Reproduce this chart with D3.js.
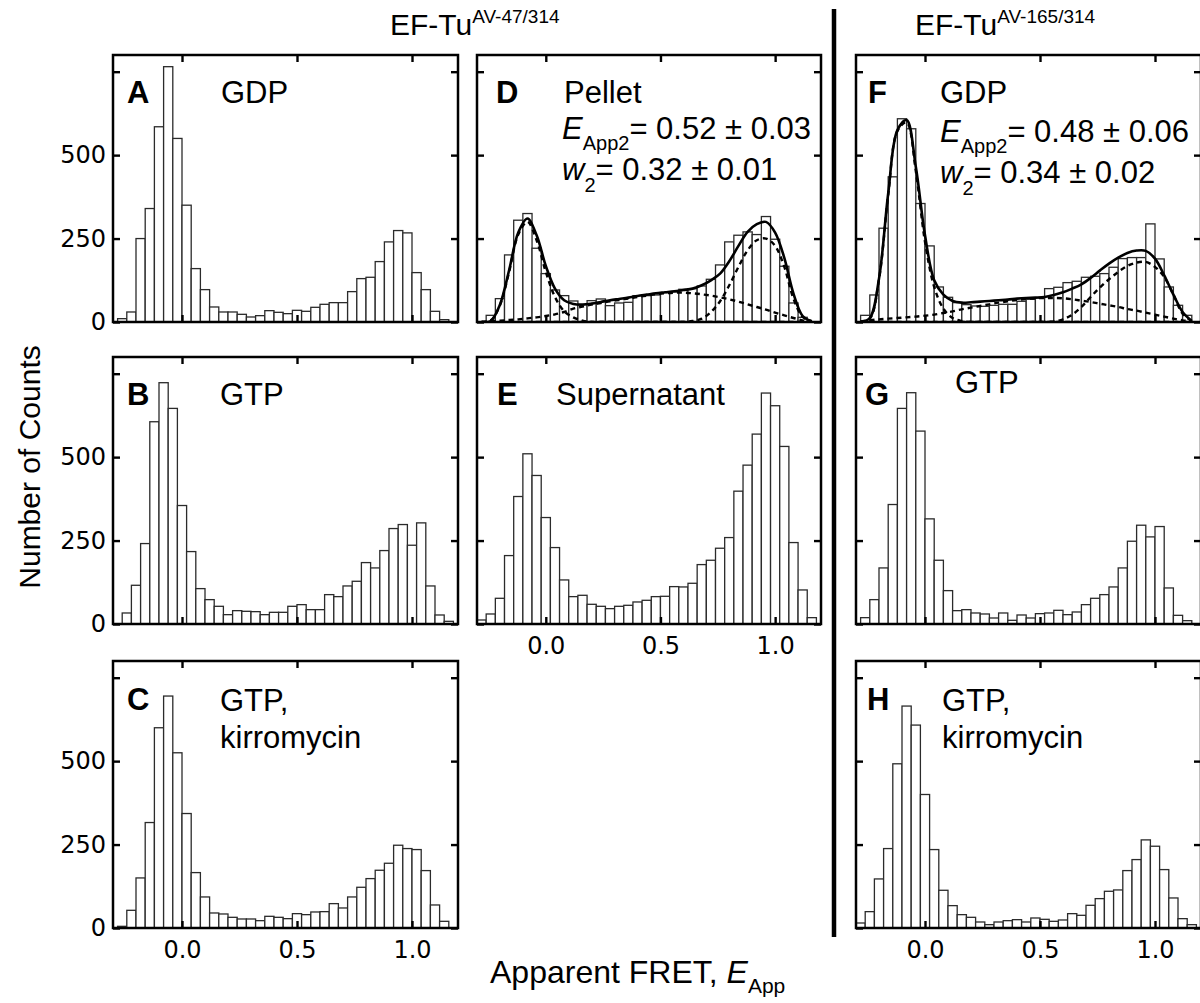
<!DOCTYPE html>
<html>
<head>
<meta charset="utf-8">
<script src="https://cdn.jsdelivr.net/npm/d3@7"></script>
<style>
  body { margin: 0; background: #fff; }
  svg { display: block; }
</style>
</head>
<body>
<svg id="fig" width="1200" height="1003"></svg>
<script>
// histogram bins are 0.04 wide, each panel has its own first edge
const binWidth = 0.04;
const xDomain = [-0.3, 1.2];
const yDomain = [0, 800];
const xTicks = [0, 0.5, 1.0];
const yTicks = [0, 250, 500, 750];
const yTickLabels = [0, 250, 500];

const startA = -0.28;
const countsA = [10, 30, 250, 340, 585, 765, 550, 350, 160, 97, 45, 30, 30, 23, 15, 19, 34, 29, 25, 35, 32, 44, 53, 58, 58, 91, 130, 134, 181, 240, 274, 267, 148, 97, 32, 7];
const startB = -0.26;
const countsB = [33, 116, 241, 606, 723, 646, 355, 217, 106, 73, 53, 28, 40, 38, 37, 28, 35, 35, 53, 58, 43, 43, 88, 82, 114, 128, 184, 168, 220, 286, 298, 236, 303, 114, 27, 8];
const startC = -0.28;
const countsC = [5, 53, 150, 316, 600, 695, 525, 343, 166, 93, 45, 42, 32, 27, 27, 22, 35, 32, 28, 43, 40, 48, 49, 73, 60, 93, 122, 148, 173, 194, 248, 238, 235, 172, 69, 20];
const startD = -0.26;
const countsD = [20, 70, 201, 305, 325, 221, 145, 96, 79, 63, 52, 64, 69, 49, 57, 59, 79, 79, 81, 88, 90, 98, 100, 108, 128, 171, 240, 260, 270, 262, 316, 248, 167, 57, 14];
const startE = -0.3;
const countsE = [12, 30, 77, 205, 382, 510, 445, 319, 229, 132, 82, 86, 59, 53, 46, 53, 56, 66, 71, 82, 83, 112, 111, 122, 178, 191, 227, 259, 398, 476, 569, 692, 654, 532, 244, 102, 19];
const startF = -0.28;
const countsF = [20, 81, 281, 435, 609, 579, 355, 228, 105, 74, 58, 52, 48, 47, 50, 53, 53, 62, 68, 72, 100, 104, 118, 122, 134, 137, 145, 164, 190, 193, 193, 294, 189, 105, 50, 20];
const startG = -0.28;
const countsG = [19, 73, 168, 358, 646, 693, 578, 315, 191, 100, 40, 43, 33, 30, 18, 33, 11, 27, 18, 31, 33, 41, 28, 36, 58, 77, 88, 111, 168, 248, 296, 261, 292, 108, 26, 10];
const startH = -0.3;
const countsH = [15, 49, 147, 238, 492, 665, 608, 400, 235, 113, 67, 40, 32, 18, 10, 18, 22, 25, 18, 30, 26, 20, 24, 43, 38, 68, 88, 110, 114, 172, 205, 264, 245, 175, 90, 28, 10];

const fitX = [-0.28, -0.24, -0.20, -0.16, -0.12, -0.08, -0.04, 0.00, 0.04, 0.08, 0.12, 0.16, 0.20, 0.24, 0.28, 0.32, 0.36, 0.40, 0.44, 0.48, 0.52, 0.56, 0.60, 0.64, 0.68, 0.72, 0.76, 0.80, 0.84, 0.88, 0.92, 0.96, 1.00, 1.04, 1.08, 1.12, 1.16];
const fitTotalD = [0, 3, 52, 155, 268, 310, 260, 168, 100, 65, 54, 52, 55, 60, 65, 69, 73, 78, 82, 86, 89, 92, 96, 100, 110, 125, 145, 182, 228, 270, 293, 300, 268, 192, 85, 18, 2];
const fitLeftD = [0, 5, 50, 150, 262, 300, 245, 150, 75, 32, 14, 4, 0, 0, 0, 0, 0, 0, 0, 0, 0, 0, 0, 0, 0, 0, 0, 0, 0, 0, 0, 0, 0, 0, 0, 0, 0];
const fitMidD = [0, 2, 4, 6, 8, 11, 14, 18, 23, 30, 40, 46, 52, 57, 62, 66, 70, 75, 79, 83, 86, 88, 88, 86, 83, 79, 74, 68, 61, 53, 45, 37, 28, 20, 12, 5, 1];
const fitRightD = [0, 0, 0, 0, 0, 0, 0, 0, 0, 0, 0, 0, 0, 0, 0, 0, 0, 0, 0, 0, 0, 0, 0, 3, 10, 30, 62, 110, 165, 215, 245, 250, 228, 165, 70, 15, 2];
const fitTotalF = [0, 12, 130, 385, 575, 605, 465, 260, 125, 82, 63, 58, 59, 61, 63, 65, 67, 70, 72, 73, 75, 81, 89, 100, 113, 132, 154, 175, 193, 207, 214, 213, 190, 140, 82, 30, 3];
const fitLeftF = [0, 10, 128, 380, 572, 598, 452, 240, 105, 40, 12, 3, 0, 0, 0, 0, 0, 0, 0, 0, 0, 0, 0, 0, 0, 0, 0, 0, 0, 0, 0, 0, 0, 0, 0, 0, 0];
const fitMidF = [2, 5, 8, 10, 12, 14, 16, 19, 22, 27, 32, 38, 43, 48, 53, 58, 62, 66, 69, 71, 72, 72, 71, 68, 64, 60, 55, 50, 45, 39, 34, 28, 22, 16, 10, 5, 2];
const fitRightF = [0, 0, 0, 0, 0, 0, 0, 0, 0, 0, 0, 0, 0, 0, 0, 0, 0, 0, 0, 0, 0, 2, 8, 22, 45, 75, 103, 128, 150, 168, 178, 180, 165, 135, 82, 25, 3];

const colX = [113, 477, 856];
const colW = [345, 344, 345];
const rowY = [55, 357, 661];
const H = 267;
const labelFont = '"Liberation Sans", Arial, sans-serif';
const tickFont = '"DejaVu Sans", sans-serif';

const panels = [
  { id: 'A', col: 0, row: 0, start: startA, counts: countsA, letter: [14, 48], lines: [['GDP', 108, 48]] },
  { id: 'B', col: 0, row: 1, start: startB, counts: countsB, letter: [14, 48], lines: [['GTP', 107, 48]] },
  { id: 'C', col: 0, row: 2, start: startC, counts: countsC, letter: [14, 49], lines: [['GTP,', 107, 50], ['kirromycin', 107, 87]], xLabels: true },
  { id: 'D', col: 1, row: 0, start: startD, counts: countsD, letter: [19, 48], lines: [['Pellet', 87, 48]],
    stats: { dx: 85, dy: 84, e: '= 0.52 \u00b1 0.03', w: '= 0.32 \u00b1 0.01' },
    fits: [fitTotalD, fitLeftD, fitMidD, fitRightD] },
  { id: 'E', col: 1, row: 1, start: startE, counts: countsE, letter: [20, 48], lines: [['Supernatant', 79, 48]], xLabels: true },
  { id: 'F', col: 2, row: 0, start: startF, counts: countsF, letter: [12, 48], lines: [['GDP', 84, 48]],
    stats: { dx: 84, dy: 87, e: '= 0.48 \u00b1 0.06', w: '= 0.34 \u00b1 0.02' },
    fits: [fitTotalF, fitLeftF, fitMidF, fitRightF] },
  { id: 'G', col: 2, row: 1, start: startG, counts: countsG, letter: [9, 48], lines: [['GTP', 99, 36]] },
  { id: 'H', col: 2, row: 2, start: startH, counts: countsH, letter: [11, 49], lines: [['GTP,', 86, 50], ['kirromycin', 86, 87]], xLabels: true }
];

const svg = d3.select('#fig');
svg.append('rect').attr('width', 1200).attr('height', 1003).attr('fill', '#fff');

panels.forEach(p => {
  const w = colW[p.col];
  const g = svg.append('g').attr('transform', `translate(${colX[p.col]},${rowY[p.row]})`);
  const x = d3.scaleLinear().domain(xDomain).range([0, w]);
  const y = d3.scaleLinear().domain(yDomain).range([H, 0]);

  g.append('clipPath').attr('id', 'clip' + p.id)
    .append('rect').attr('width', w).attr('height', H);
  const plot = g.append('g').attr('clip-path', `url(#clip${p.id})`);

  plot.selectAll('rect.bar')
    .data(p.counts)
    .join('rect')
    .attr('class', 'bar')
    .attr('x', (d, i) => x(p.start + i * binWidth))
    .attr('width', x(binWidth) - x(0))
    .attr('y', d => y(d))
    .attr('height', d => H - y(d))
    .attr('fill', '#fff')
    .attr('stroke', '#2b2b2b')
    .attr('stroke-width', 1.3);

  if (p.fits) {
    const line = d3.line()
      .x((d, i) => x(fitX[i]))
      .y(d => y(d))
      .curve(d3.curveCatmullRom);
    p.fits.forEach((f, k) => {
      plot.append('path')
        .attr('d', line(f))
        .attr('fill', 'none')
        .attr('stroke', '#000')
        .attr('stroke-width', k === 0 ? 2.6 : 2.4)
        .attr('stroke-dasharray', k === 0 ? null : '5,4');
    });
  }

  const styleAxis = a => {
    a.select('.domain').remove();
    a.selectAll('.tick line').attr('stroke', '#000').attr('stroke-width', 2.4);
    a.selectAll('.tick text')
      .attr('fill', '#000')
      .style('font-family', tickFont)
      .style('font-size', '24px');
  };

  g.append('g').attr('transform', `translate(0,${H})`)
    .call(d3.axisBottom(x).tickValues(xTicks).tickSizeInner(-7).tickSizeOuter(0).tickPadding(13)
      .tickFormat(p.xLabels ? d3.format('.1f') : ''))
    .call(styleAxis);
  g.append('g')
    .call(d3.axisTop(x).tickValues(xTicks).tickSizeInner(-7).tickSizeOuter(0).tickFormat(''))
    .call(styleAxis);
  g.append('g')
    .call(d3.axisLeft(y).tickValues(yTicks).tickSizeInner(-7).tickSizeOuter(0).tickPadding(7)
      .tickFormat(d => (p.col === 0 && yTickLabels.includes(d)) ? d : ''))
    .call(styleAxis);
  g.append('g').attr('transform', `translate(${w},0)`)
    .call(d3.axisRight(y).tickValues(yTicks).tickSizeInner(-7).tickSizeOuter(0).tickFormat(''))
    .call(styleAxis);

  g.append('rect')
    .attr('width', w).attr('height', H)
    .attr('fill', 'none').attr('stroke', '#000').attr('stroke-width', 2.5);

  g.append('text')
    .attr('x', p.letter[0]).attr('y', p.letter[1])
    .attr('font-family', labelFont).attr('font-size', 31).attr('font-weight', 'bold')
    .text(p.id);

  p.lines.forEach(([t, lx, ly]) => {
    g.append('text')
      .attr('x', lx).attr('y', ly)
      .attr('font-family', labelFont).attr('font-size', 31)
      .text(t);
  });

  if (p.stats) {
    const s = p.stats;
    const t1 = g.append('text').attr('x', s.dx).attr('y', s.dy)
      .attr('font-family', labelFont).attr('font-size', 31);
    t1.append('tspan').attr('font-style', 'italic').text('E');
    t1.append('tspan').attr('font-size', 20).attr('dy', 11).text('App2');
    t1.append('tspan').attr('dy', -11).text(s.e);
    const t2 = g.append('text').attr('x', s.dx).attr('y', s.dy + 41)
      .attr('font-family', labelFont).attr('font-size', 31);
    t2.append('tspan').attr('font-style', 'italic').text('w');
    t2.append('tspan').attr('font-size', 20).attr('dy', 12).text('2');
    t2.append('tspan').attr('dy', -12).text(s.w);
  }
});

// column titles
[['AV-47/314', 390], ['AV-165/314', 915]].forEach(([sup, tx]) => {
  const t = svg.append('text').attr('x', tx).attr('y', 35)
    .attr('font-family', labelFont).attr('font-size', 30);
  t.append('tspan').text('EF-Tu');
  t.append('tspan').attr('font-size', 19).attr('dy', -12).text(sup);
});

// divider between the two constructs
svg.append('line')
  .attr('x1', 834).attr('x2', 834).attr('y1', 9).attr('y2', 937)
  .attr('stroke', '#000').attr('stroke-width', 4.5);

svg.append('text')
  .attr('transform', 'translate(40,467) rotate(-90)')
  .attr('text-anchor', 'middle')
  .attr('font-family', labelFont).attr('font-size', 30)
  .text('Number of Counts');

const xl = svg.append('text').attr('x', 490).attr('y', 983)
  .attr('font-family', labelFont).attr('font-size', 32);
xl.append('tspan').text('Apparent FRET, ');
xl.append('tspan').attr('font-style', 'italic').text('E');
xl.append('tspan').attr('font-size', 21).attr('dy', 10).text('App');
</script>
</body>
</html>
